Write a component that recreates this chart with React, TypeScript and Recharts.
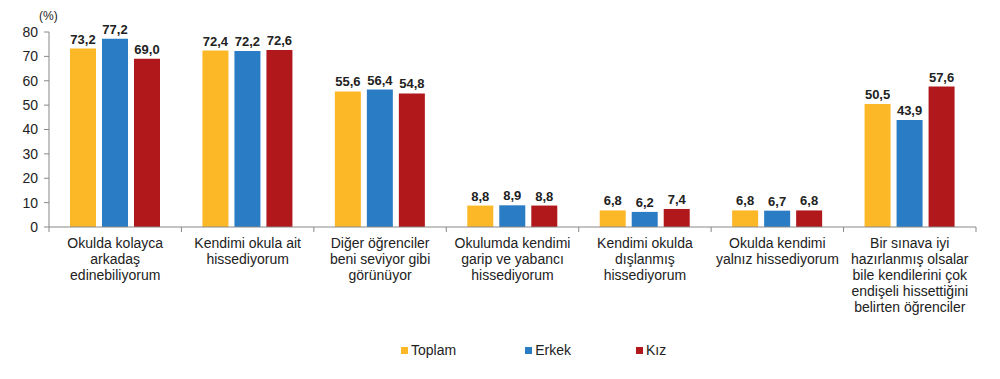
import { Bar, BarChart, LabelList, Legend, XAxis, YAxis } from 'recharts'

// kategoriler (satır sonları orijinal grafikteki gibi)
const categories = [
  'Okulda kolayca\narkadaş\nedinebiliyorum',
  'Kendimi okula ait\nhissediyorum',
  'Diğer öğrenciler\nbeni seviyor gibi\ngörünüyor',
  'Okulumda kendimi\ngarip ve yabancı\nhissediyorum',
  'Kendimi okulda\ndışlanmış\nhissediyorum',
  'Okulda kendimi\nyalnız hissediyorum',
  'Bir sınava iyi\nhazırlanmış olsalar\nbile kendilerini çok\nendişeli hissettiğini\nbelirten öğrenciler',
]
const toplam = [73.2, 72.4, 55.6, 8.8, 6.8, 6.8, 50.5]
const erkek = [77.2, 72.2, 56.4, 8.9, 6.2, 6.7, 43.9]
const kiz = [69.0, 72.6, 54.8, 8.8, 7.4, 6.8, 57.6]
const yTicks = [0, 10, 20, 30, 40, 50, 60, 70, 80]

const series = [
  { key: 'toplam', name: 'Toplam', color: '#FDB827' },
  { key: 'erkek', name: 'Erkek', color: '#2A7CC4' },
  { key: 'kiz', name: 'Kız', color: '#B0181C' },
]

const data = categories.map((c, i) => ({ name: c, toplam: toplam[i], erkek: erkek[i], kiz: kiz[i] }))

const W = 1000
const H = 379
const MARGIN = { top: 32, right: 24, bottom: 17, left: 0 }
const Y_W = 49
const BAND = (W - MARGIN.left - MARGIN.right - Y_W) / categories.length
const FONT = '"Liberation Sans", Arial, sans-serif'

const fmt = (v: unknown) => Number(v).toFixed(1).replace('.', ',')

function CatTick(props: any) {
  const { x, y, payload, index } = props
  const lines = String(payload.value).split('\n')
  return (
    <g>
      <line x1={x - BAND / 2} x2={x - BAND / 2} y1={y - 8} y2={y - 3} stroke="#888" />
      {index === categories.length - 1 && (
        <line x1={x + BAND / 2} x2={x + BAND / 2} y1={y - 8} y2={y - 3} stroke="#888" />
      )}
      <text x={x} y={y + 13} textAnchor="middle" fill="#222" fontSize={14} fontFamily={FONT}>
        {lines.map((l, i) => (
          <tspan key={i} x={x} dy={i === 0 ? 0 : 16}>
            {l}
          </tspan>
        ))}
      </text>
    </g>
  )
}

function LegendBox() {
  return (
    <div style={{ display: 'flex', paddingLeft: 401, fontFamily: FONT, fontSize: 14, color: '#222' }}>
      {series.map((s, i) => (
        <div key={s.key} style={{ display: 'flex', alignItems: 'center', gap: 3, marginLeft: i === 0 ? 0 : i === 1 ? 69 : 65 }}>
          <span style={{ width: 7, height: 7, background: s.color, display: 'inline-block' }} />
          {s.name}
        </div>
      ))}
    </div>
  )
}

export default function App() {
  return (
    <div style={{ position: 'absolute', left: 0, top: 0, width: W, height: H, background: '#fff' }}>
      <div style={{ position: 'absolute', left: 39, top: 9, fontFamily: FONT, fontSize: 12, color: '#222' }}>(%)</div>
      <BarChart width={W} height={H} data={data} margin={MARGIN} barCategoryGap={21} barGap={6}>
        <XAxis
          dataKey="name"
          interval={0}
          height={H - MARGIN.top - MARGIN.bottom - 20 - 195}
          tick={<CatTick />}
          tickLine={false}
          axisLine={{ stroke: '#888' }}
        />
        <YAxis
          domain={[0, 80]}
          ticks={yTicks}
          width={Y_W}
          tickSize={5}
          tickMargin={6}
          tick={{ fill: '#222', fontSize: 14, fontFamily: FONT }}
          axisLine={{ stroke: '#888' }}
          tickLine={{ stroke: '#888' }}
        />
        <Legend verticalAlign="bottom" height={20} content={<LegendBox />} />
        {series.map((s) => (
          <Bar key={s.key} dataKey={s.key} name={s.name} fill={s.color} isAnimationActive={false}>
            <LabelList
              dataKey={s.key}
              position="top"
              offset={5}
              formatter={fmt}
              fill="#222"
              fontSize={13}
              fontWeight="bold"
              fontFamily={FONT}
            />
          </Bar>
        ))}
      </BarChart>
    </div>
  )
}
